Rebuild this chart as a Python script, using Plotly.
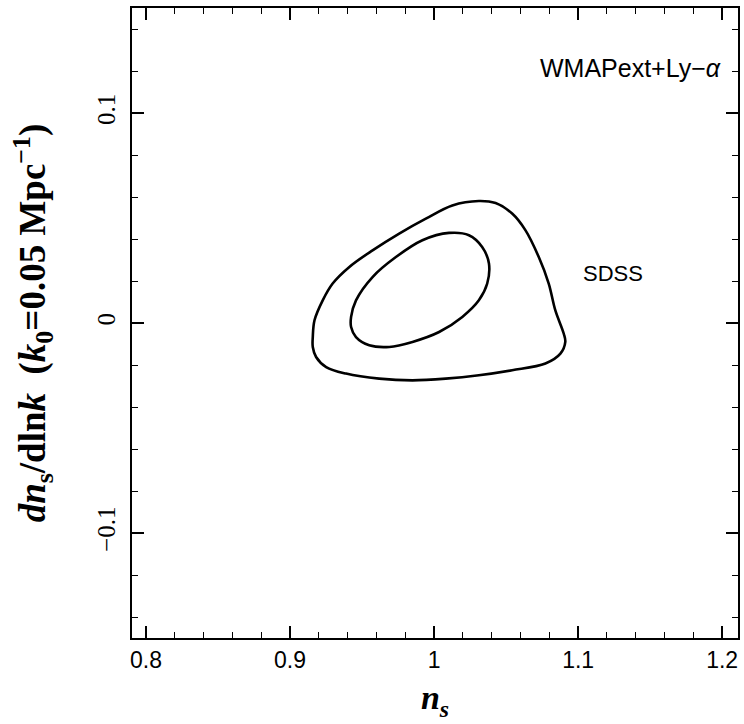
import plotly.graph_objects as go

# Outer (95%) confidence contour in the (n_s, dn_s/dlnk) plane
outer_ns = [0.9158, 0.9170, 0.9227, 0.9296, 0.9412, 0.9573, 0.9758, 0.9943, 1.0127,
            1.0311, 1.0427, 1.0542, 1.0635, 1.0727, 1.0796, 1.0842, 1.0900, 1.0911,
            1.0877, 1.0773, 1.0542, 1.0311, 1.0081, 0.9850, 0.9619, 0.9389, 0.9251,
            0.9181, 0.9158, 0.9158]
outer_run = [-0.0067, 0.0013, 0.0108, 0.0188, 0.0267, 0.0346, 0.0426, 0.0497, 0.0560,
             0.0581, 0.0571, 0.0521, 0.0441, 0.0314, 0.0188, 0.0060, -0.0050, -0.0090,
             -0.0146, -0.0193, -0.0225, -0.0249, -0.0265, -0.0273, -0.0265, -0.0241, -0.0210,
             -0.0162, -0.0114, -0.0067]

# Inner (68%) confidence contour
inner_ns = [0.9424, 0.9458, 0.9573, 0.9735, 0.9919, 1.0104, 1.0242, 1.0334, 1.0381,
            1.0369, 1.0311, 1.0196, 1.0035, 0.9850, 0.9689, 0.9550, 0.9458, 0.9424, 0.9424]
inner_run = [0.0029, 0.0108, 0.0219, 0.0314, 0.0394, 0.0429, 0.0418, 0.0362, 0.0283,
             0.0188, 0.0108, 0.0029, -0.0043, -0.0090, -0.0114, -0.0106, -0.0067, -0.0019, 0.0029]

# Axis extents and tick spacing
x_range = [0.7903, 1.211]
y_range = [-0.15, 0.15]
x_major, x_minor = 0.1, 0.02
y_major, y_minor = 0.1, 0.02

SANS = "Liberation Sans, Arial, sans-serif"
SERIF = "Liberation Serif, Times New Roman, serif"

fig = go.Figure()
for xs, ys in [(outer_ns, outer_run), (inner_ns, inner_run)]:
    fig.add_trace(go.Scatter(
        x=xs, y=ys, mode="lines",
        line=dict(color="black", width=2.6, shape="spline", smoothing=1.0),
        hoverinfo="skip", showlegend=False,
    ))

axis_common = dict(
    showline=True, linecolor="black", linewidth=2, mirror="ticks",
    ticks="inside", ticklen=12, tickwidth=1.5, tickcolor="black",
    showgrid=False, zeroline=False,
)
minor_ticks = dict(ticks="inside", ticklen=6, tickwidth=1.4, tickcolor="black", showgrid=False)

fig.update_xaxes(
    range=x_range, tickmode="linear", tick0=0.8, dtick=x_major,
    minor=dict(tickmode="linear", tick0=0.8, dtick=x_minor, **minor_ticks),
    tickfont=dict(family=SANS, size=23, color="black"),
    title=dict(text="<b><i>n<sub>s</sub></i></b>",
               font=dict(family=SERIF, size=34, color="black"), standoff=14),
    **axis_common,
)
fig.update_yaxes(
    range=y_range, tickmode="linear", tick0=0.0, dtick=y_major,
    minor=dict(tickmode="linear", tick0=0.0, dtick=y_minor, **minor_ticks),
    tickangle=-90, ticklabelstandoff=5,
    tickfont=dict(family=SERIF, size=25, color="black"),
    title=dict(text="<b><i>dn</i><sub>s</sub>/dln<i>k</i>  (<i>k</i><sub>0</sub>=0.05 Mpc<sup>\u22121</sup>)</b>",
               font=dict(family=SERIF, size=37, color="black"), standoff=36),
    **axis_common,
)

fig.add_annotation(x=1.2005, y=0.1213, xref="x", yref="y", xanchor="right", yanchor="middle",
                   text="WMAPext+Ly\u2212<i>\u03b1</i>", showarrow=False,
                   font=dict(family=SANS, size=25, color="black"))
fig.add_annotation(x=1.1022, y=0.0234, xref="x", yref="y", xanchor="left", yanchor="middle",
                   text="SDSS", showarrow=False,
                   font=dict(family=SANS, size=22, color="black"))

fig.update_layout(
    width=744, height=724,
    margin=dict(l=132, r=4, t=8, b=86),
    paper_bgcolor="white", plot_bgcolor="white",
)

fig.write_html("out.html")
